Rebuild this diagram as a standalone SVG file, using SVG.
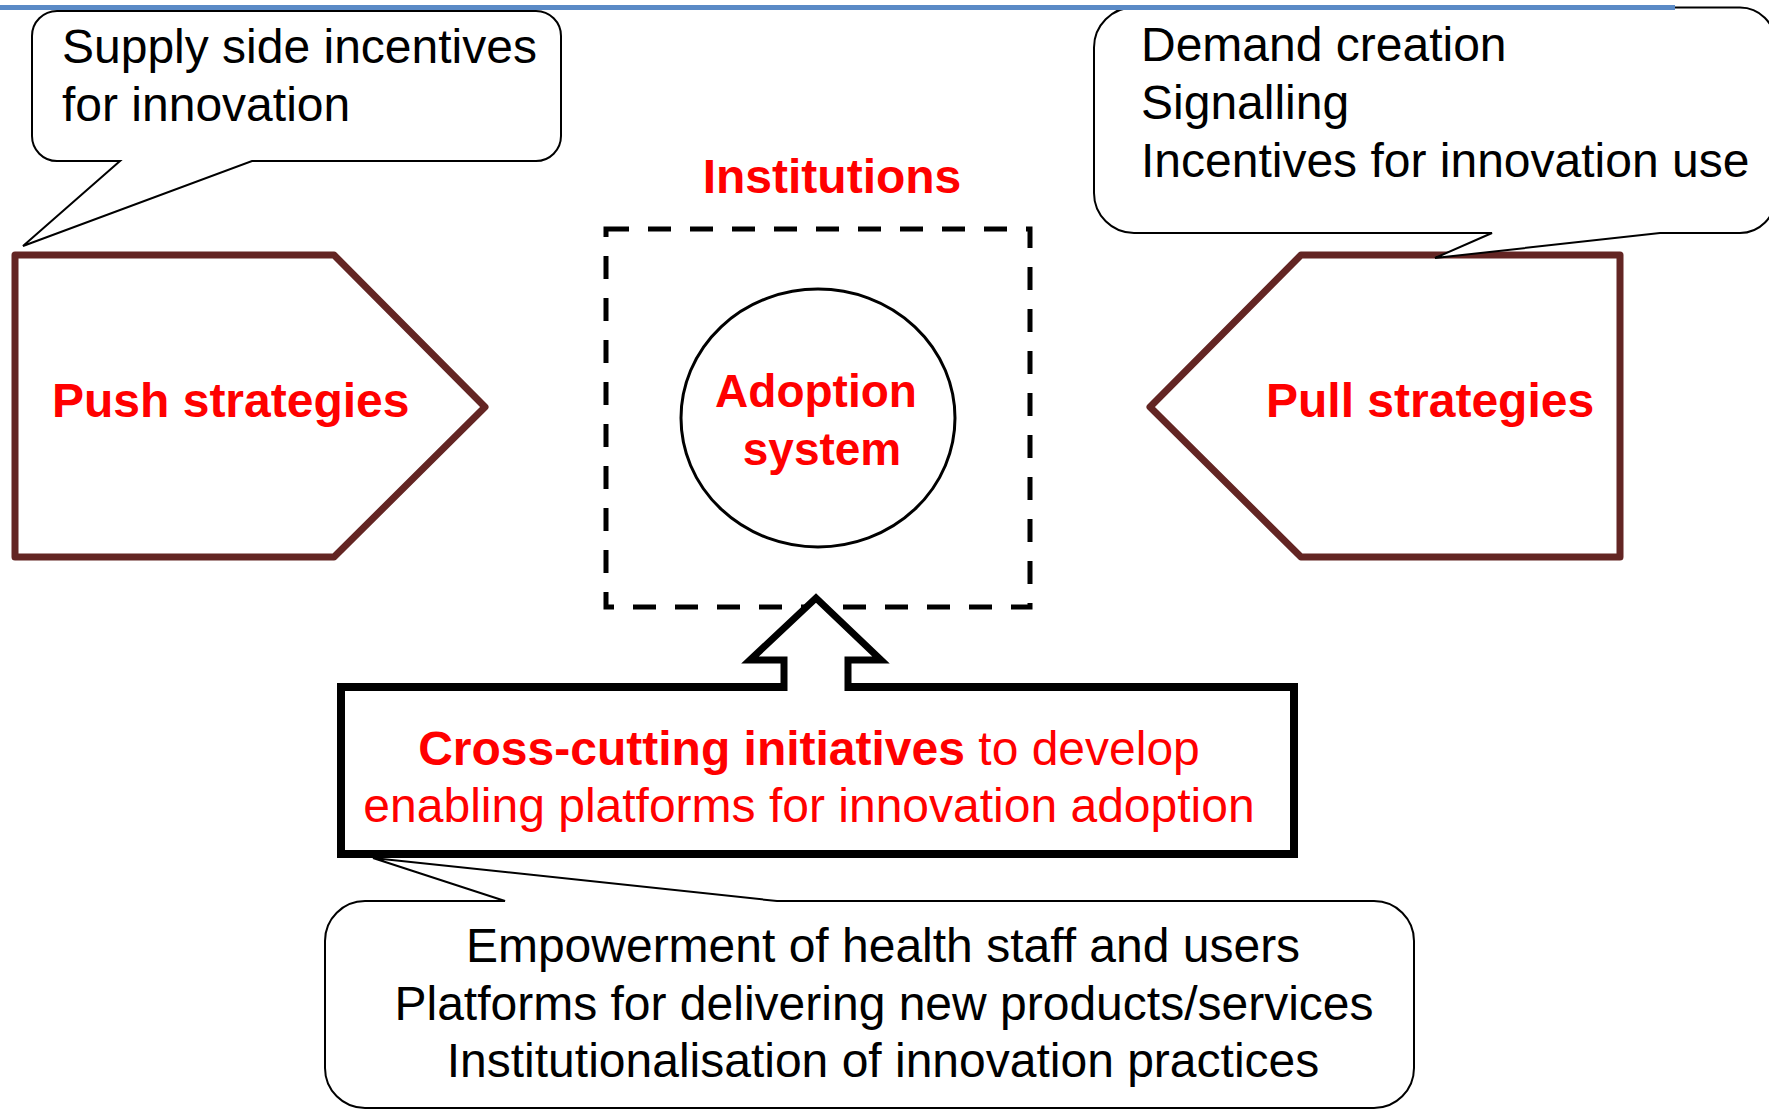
<svg xmlns="http://www.w3.org/2000/svg" width="1769" height="1110" viewBox="0 0 1769 1110">
<style>
.callout{fill:#fff;stroke:#000;stroke-width:2}
.strat{fill:#fff;stroke:#632523;stroke-width:7;stroke-linejoin:round}
.t{font-family:"Liberation Sans",Arial,sans-serif;font-size:48px}
.blk{fill:#000}
.red{fill:#ff0000}
.b{font-weight:bold}
</style>
<rect width="1769" height="1110" fill="#fff"/>
<g id="push">
<polygon class="strat" points="15,255 334,255 485,407 334,557 15,557"/>
<text class="t red b" x="52" y="417">Push strategies</text>
</g>
<g id="pull">
<polygon class="strat" points="1301,255 1620,255 1620,557 1301,557 1150,407"/>
<text class="t red b" x="1266" y="417">Pull strategies</text>
</g>
<g id="supply-callout">
<path class="callout" d="M57,11 H536 A25,25 0 0 1 561,36 V136 A25,25 0 0 1 536,161 H252 L23,246 L120,161 H57 A25,25 0 0 1 32,136 V36 A25,25 0 0 1 57,11 Z"/>
<text class="t blk" x="62" y="63">Supply side incentives</text>
<text class="t blk" x="62" y="121">for innovation</text>
</g>
<g id="demand-callout">
<path class="callout" d="M1134,7.5 H1740 A35,35 0 0 1 1775,42.5 V198 A35,35 0 0 1 1740,233 H1660 L1435,258 L1492,233 H1134 A40,40 0 0 1 1094,193 V47.5 A40,40 0 0 1 1134,7.5 Z"/>
<text class="t blk" x="1141" y="61">Demand creation</text>
<text class="t blk" x="1141" y="119">Signalling</text>
<text class="t blk" x="1141" y="177">Incentives for innovation use</text>
</g>
<line x1="0" y1="7.5" x2="1675" y2="7.5" stroke="#5a8ac6" stroke-width="5"/>
<g id="institutions">
<text class="t red b" x="832" y="193" text-anchor="middle">Institutions</text>
<rect x="606" y="229" width="424" height="378" fill="none" stroke="#000" stroke-width="5" stroke-dasharray="23 19"/>
</g>
<g id="adoption">
<ellipse cx="818" cy="418" rx="137" ry="129" fill="#fff" stroke="#000" stroke-width="3"/>
<text class="t red b" style="font-size:46px" x="816" y="407" text-anchor="middle">Adoption</text>
<text class="t red b" style="font-size:46px" x="822" y="465" text-anchor="middle">system</text>
</g>
<g id="crosscutting">
<rect x="341" y="687" width="953" height="167" fill="#fff" stroke="#000" stroke-width="8"/>
<text class="t red" x="809" y="765" text-anchor="middle"><tspan class="b">Cross-cutting initiatives</tspan> to develop</text>
<text class="t red" x="809" y="822" text-anchor="middle">enabling platforms for innovation adoption</text>
</g>
<g id="connectors">
<path d="M784,691 V660 H750 L816,598 L881,660 H848 V691" fill="#fff" stroke="#000" stroke-width="7" stroke-linejoin="miter"/>
</g>
<g id="platforms-callout">
<path class="callout" d="M365,901 H505 L373,858 L777,901 H1374 A40,40 0 0 1 1414,941 V1068 A40,40 0 0 1 1374,1108 H365 A40,40 0 0 1 325,1068 V941 A40,40 0 0 1 365,901 Z"/>
<text class="t blk" x="883" y="962" text-anchor="middle">Empowerment of health staff and users</text>
<text class="t blk" x="884" y="1020" text-anchor="middle">Platforms for delivering new products/services</text>
<text class="t blk" x="883" y="1077" text-anchor="middle">Institutionalisation of innovation practices</text>
</g>
</svg>
